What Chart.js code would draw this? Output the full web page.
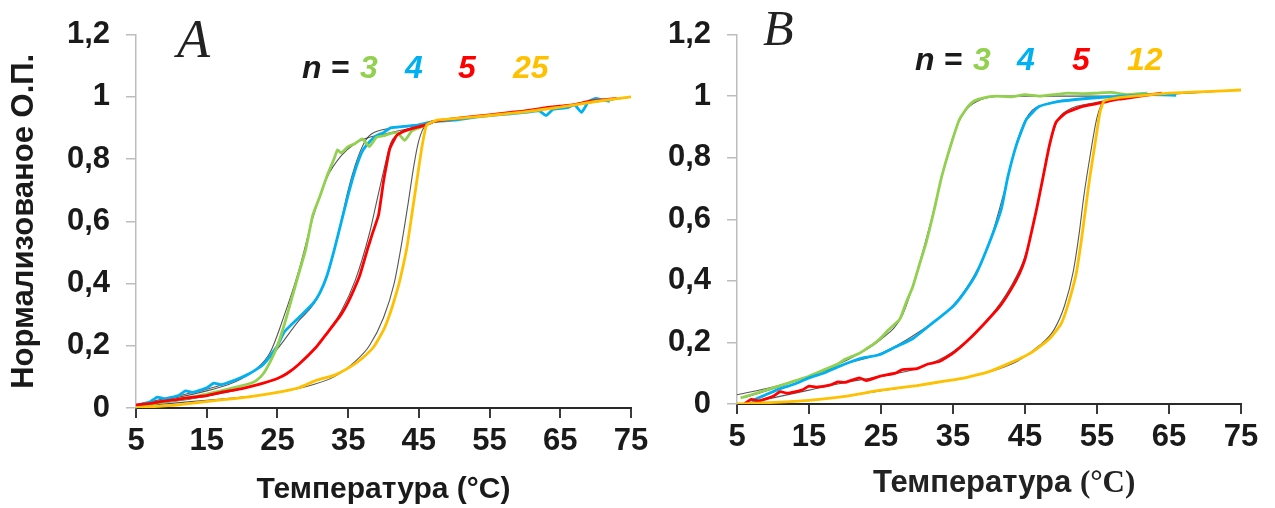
<!DOCTYPE html>
<html>
<head>
<meta charset="utf-8">
<script src="https://cdn.jsdelivr.net/npm/chart.js@4.4.0/dist/chart.umd.min.js"></script>
<style>
  body { margin: 0; background: #fff; width: 1275px; height: 508px; position: relative; overflow: hidden;
         font-family: "Liberation Sans", Arial, sans-serif; }
  canvas { position: absolute; top: 0; }
  #chartA { left: 0; }
  #chartB { left: 660px; }
  .tag { position: absolute; font-family: "Liberation Serif", "Times New Roman", serif; font-style: italic;
         line-height: 1; color: #222; }
  .key { position: absolute; font-weight: bold; font-style: italic; font-size: 32px; line-height: 1; white-space: pre; }
  .xt { position: absolute; left: 873px; top: 466px; font-size: 31px; font-weight: bold; line-height: 1; color: #222; white-space: pre; }
  .xt span { font-family: "Liberation Serif", "Times New Roman", serif; }
</style>
</head>
<body>
<canvas id="chartA" width="660" height="508"></canvas>
<canvas id="chartB" width="615" height="508"></canvas>

<div class="tag" style="left:177px; top:12px; font-size:54px;">A</div>
<div class="tag" style="left:763px; top:3px; font-size:50px;">B</div>

<div class="key" style="left:302px; top:51px; color:#1a1a1a;">n =</div>
<div class="key" style="left:360px; top:51px; color:#92d050;">3</div>
<div class="key" style="left:405px; top:51px; color:#00b0f0;">4</div>
<div class="key" style="left:458px; top:51px; color:#ff0000;">5</div>
<div class="key" style="left:513px; top:51px; color:#ffc000;">25</div>

<div class="key" style="left:915px; top:43px; color:#1a1a1a;">n =</div>
<div class="key" style="left:973px; top:43px; color:#92d050;">3</div>
<div class="key" style="left:1017px; top:43px; color:#00b0f0;">4</div>
<div class="key" style="left:1072px; top:43px; color:#ff0000;">5</div>
<div class="key" style="left:1127px; top:43px; color:#ffc000;">12</div>

<div class="xt">Температура <span>(°C)</span></div>

<script>
// Панель A: n = 3, 4, 5, 25 — температура (°C) и нормализованная О.П.
const a3T = [5, 7, 9, 11, 13, 15, 17, 19, 21, 22, 23, 24, 25, 26, 27, 28, 29, 30, 31, 32, 33, 33.5, 34, 35, 36, 37, 38, 39, 40, 41, 42, 43, 44, 45, 46, 47];
const a3V = [0.005, 0.012, 0.02, 0.028, 0.035, 0.045, 0.055, 0.066, 0.078, 0.088, 0.11, 0.15, 0.2, 0.27, 0.35, 0.43, 0.51, 0.62, 0.68, 0.745, 0.8, 0.83, 0.82, 0.84, 0.85, 0.865, 0.84, 0.87, 0.875, 0.882, 0.885, 0.86, 0.89, 0.9, 0.91, 0.92];

const a4T = [5, 7, 8, 9, 11, 12, 13, 15, 16, 17, 19, 21, 23, 25, 26, 28, 30, 31, 32, 33, 34, 35, 36, 37, 38, 39, 40, 41, 43, 45, 47, 50, 53, 55, 58, 60, 62, 63, 64, 66, 67, 68, 69, 70, 71, 72];
const a4V = [0.008, 0.02, 0.035, 0.03, 0.04, 0.055, 0.05, 0.065, 0.08, 0.075, 0.09, 0.11, 0.14, 0.2, 0.245, 0.29, 0.335, 0.37, 0.425, 0.505, 0.595, 0.685, 0.765, 0.825, 0.855, 0.875, 0.885, 0.9, 0.905, 0.91, 0.92, 0.925, 0.935, 0.94, 0.945, 0.95, 0.955, 0.94, 0.96, 0.965, 0.975, 0.95, 0.985, 0.995, 0.99, 0.985];

const a5T = [5, 7, 9, 11, 13, 15, 17, 19, 21, 23, 25, 26.3, 28, 30.5, 32, 34, 35, 36, 36.7, 37.8, 38.5, 39.3, 40, 40.5, 40.9, 41.9, 43, 44, 46, 47, 50, 55, 58, 60, 63, 65, 67, 69, 71, 73];
const a5V = [0.01, 0.015, 0.022, 0.028, 0.035, 0.04, 0.05, 0.058, 0.068, 0.08, 0.095, 0.11, 0.14, 0.196, 0.24, 0.3, 0.34, 0.39, 0.43, 0.515, 0.565, 0.62, 0.728, 0.79, 0.834, 0.877, 0.89, 0.898, 0.91, 0.92, 0.93, 0.942, 0.95, 0.955, 0.965, 0.97, 0.975, 0.985, 0.99, 0.995];

const a25T = [5, 8, 11, 14, 17, 21, 25, 28, 30.5, 33, 35.3, 37, 38.6, 40, 40.9, 41.7, 42.3, 43.3, 44, 44.7, 45.4, 46.1, 47.6, 50, 55, 60, 65, 70, 75];
const a25V = [0, 0.005, 0.01, 0.018, 0.026, 0.036, 0.05, 0.065, 0.089, 0.105, 0.132, 0.16, 0.196, 0.25, 0.302, 0.36, 0.409, 0.515, 0.62, 0.728, 0.834, 0.909, 0.925, 0.93, 0.94, 0.952, 0.967, 0.985, 1.0];

// аппроксимация (тонкие чёрные линии), панель A
const fa3T = [5, 10, 15, 18, 20, 22, 24, 26, 28, 30, 32, 34, 36, 38, 40, 44, 47];
const fa3V = [0.01, 0.03, 0.055, 0.075, 0.095, 0.125, 0.18, 0.3, 0.44, 0.61, 0.74, 0.81, 0.85, 0.87, 0.88, 0.9, 0.915];
const fa4T = [5, 10, 15, 20, 23, 25, 28, 30, 32, 34, 35, 36, 37, 38, 40, 43, 47];
const fa4V = [0.01, 0.035, 0.06, 0.1, 0.14, 0.19, 0.28, 0.33, 0.42, 0.6, 0.7, 0.78, 0.84, 0.875, 0.895, 0.905, 0.918];
const fa5T = [5, 10, 15, 20, 25, 28, 31, 34, 36, 38, 39, 40, 41, 42, 44, 47];
const fa5V = [0.008, 0.02, 0.038, 0.062, 0.095, 0.14, 0.21, 0.31, 0.41, 0.56, 0.66, 0.76, 0.85, 0.88, 0.9, 0.918];
const fa25T = [5, 10, 15, 20, 25, 30, 33, 36, 38, 40, 41.5, 42.5, 43.5, 44.3, 45, 46, 47.5, 55, 65, 75];
const fa25V = [0.005, 0.015, 0.025, 0.035, 0.05, 0.075, 0.1, 0.15, 0.2, 0.29, 0.4, 0.52, 0.66, 0.78, 0.86, 0.91, 0.92, 0.94, 0.967, 1.0];

// Панель B: n = 3, 4, 5, 12
const b3T = [5.5, 7, 9, 11, 13, 15, 17, 19, 20, 22, 23, 24, 25, 26, 27.6, 28.5, 29.4, 30.3, 31.3, 32.4, 33.4, 34.7, 35.9, 37.1, 38, 39.1, 41, 43, 45, 47, 49, 51, 53, 55, 57, 59, 62];
const b3V = [0.02, 0.03, 0.045, 0.06, 0.075, 0.09, 0.11, 0.13, 0.145, 0.165, 0.18, 0.195, 0.215, 0.24, 0.275, 0.33, 0.38, 0.45, 0.527, 0.632, 0.736, 0.841, 0.925, 0.967, 0.985, 0.994, 1.0, 0.998, 1.005, 1.0, 1.005, 1.01, 1.008, 1.01, 1.012, 1.005, 1.01];

const b4T = [7, 9, 11, 13, 15, 17, 20, 22.5, 24.8, 27, 29.4, 32, 35, 36.5, 38.2, 40.1, 41.7, 42.6, 43.8, 45.2, 47, 49.8, 54.4, 58, 62, 66];
const b4V = [0.01, 0.03, 0.05, 0.065, 0.085, 0.1, 0.13, 0.15, 0.16, 0.185, 0.212, 0.26, 0.317, 0.36, 0.422, 0.527, 0.632, 0.736, 0.841, 0.925, 0.967, 0.983, 0.994, 1.0, 1.005, 1.003];

const b5T = [6, 7, 8, 10, 11, 12, 14, 15, 16, 18, 19, 20, 22, 23, 24.8, 27, 28, 30, 31.5, 33.1, 35, 37.3, 39.5, 41.5, 43, 44.2, 45, 45.6, 46.6, 47.5, 48.4, 49.3, 50.7, 53, 55.3, 58, 61, 64];
const b5V = [0, 0.015, 0.01, 0.025, 0.04, 0.035, 0.045, 0.058, 0.055, 0.062, 0.072, 0.07, 0.085, 0.076, 0.09, 0.1, 0.112, 0.115, 0.13, 0.138, 0.165, 0.212, 0.265, 0.317, 0.37, 0.422, 0.47, 0.527, 0.632, 0.736, 0.841, 0.915, 0.946, 0.967, 0.977, 0.99, 1.0, 1.01];

const b12T = [5, 8, 11, 15, 20, 24.8, 30, 34, 36.8, 40, 42.4, 44.5, 46.1, 48.4, 50, 50.9, 52.1, 52.8, 53.4, 54, 54.7, 55.4, 56, 58, 60, 65, 70, 75];
const b12V = [0, 0.003, 0.006, 0.012, 0.025, 0.044, 0.06, 0.075, 0.086, 0.105, 0.128, 0.15, 0.17, 0.212, 0.26, 0.317, 0.422, 0.527, 0.632, 0.736, 0.841, 0.946, 0.985, 0.995, 1.0, 1.01, 1.015, 1.02];

// аппроксимация, панель B
const fb3T = [5, 10, 15, 20, 25, 28, 30, 32, 34, 35.5, 37, 39, 42, 57];
const fb3V = [0.03, 0.055, 0.09, 0.14, 0.21, 0.29, 0.43, 0.6, 0.79, 0.9, 0.96, 0.99, 1.0, 1.0];
const fb4T = [6, 10, 15, 20, 25, 30, 35, 38, 40, 42, 44, 45.5, 48, 52, 60];
const fb4V = [0.02, 0.05, 0.09, 0.13, 0.165, 0.23, 0.32, 0.42, 0.52, 0.68, 0.86, 0.94, 0.975, 0.99, 1.0];
const fb5T = [6, 10, 15, 20, 25, 30, 35, 40, 43, 45, 46.6, 48, 49.5, 51, 55, 60, 75];
const fb5V = [0, 0.02, 0.045, 0.07, 0.09, 0.115, 0.17, 0.28, 0.38, 0.48, 0.63, 0.8, 0.92, 0.955, 0.98, 1.0, 1.02];
const fb12T = [5, 10, 15, 20, 25, 30, 35, 40, 44, 47, 49, 50.5, 51.7, 52.5, 53.2, 54, 55, 56, 60, 75];
const fb12V = [0, 0.005, 0.012, 0.025, 0.043, 0.06, 0.078, 0.104, 0.14, 0.19, 0.24, 0.32, 0.43, 0.55, 0.68, 0.8, 0.93, 0.985, 1.0, 1.02];

const xTicks = [5, 15, 25, 35, 45, 55, 65, 75];
const yTicks = [0, 0.2, 0.4, 0.6, 0.8, 1, 1.2];

const GREEN = '#92d050', BLUE = '#00b0f0', RED = '#ff0000', GOLD = '#ffc000';
const SANS = '"Liberation Sans", Arial, sans-serif';

function pts(t, v) {
    return t.map((x, i) => ({ x: x, y: v[i] }));
}

function dataLine(t, v, color) {
    return { data: pts(t, v), borderColor: color, borderWidth: 2.8, tension: 0.15, pointRadius: 0 };
}

function fitLine(t, v) {
    return { data: pts(t, v), borderColor: 'rgba(30,30,30,0.75)', borderWidth: 1.1,
             cubicInterpolationMode: 'monotone', pointRadius: 0 };
}

function makePanel(id, datasets, box) {
    const ctx = document.getElementById(id).getContext('2d');
    return new Chart(ctx, {
        type: 'line',
        data: { datasets: datasets },
        options: {
            responsive: false,
            animation: false,
            layout: { padding: { top: box.top, right: box.right, left: 0, bottom: 0 } },
            plugins: { legend: { display: false }, tooltip: { enabled: false } },
            scales: {
                x: {
                    type: 'linear', min: 5, max: 75,
                    afterBuildTicks: s => { s.ticks = xTicks.map(v => ({ value: v })); },
                    ticks: { color: '#1a1a1a', padding: 5, maxRotation: 0,
                             font: { family: SANS, size: 31, weight: 'bold' } },
                    grid: { drawOnChartArea: false, tickLength: 10, color: '#3a3a3a', lineWidth: 2 },
                    border: { color: '#2a2a2a', width: 2 },
                    title: { display: box.xTitle, text: 'Температура (°C)', color: '#1a1a1a',
                             padding: 0, font: { family: SANS, size: 30, weight: 'bold' } },
                    afterFit: s => { s.height = box.xH; }
                },
                y: {
                    min: 0, max: 1.2,
                    afterBuildTicks: s => { s.ticks = yTicks.map(v => ({ value: v })); },
                    ticks: { color: '#1a1a1a', padding: 16,
                             font: { family: SANS, size: 31, weight: 'bold' },
                             callback: v => String(Math.round(v * 10) / 10).replace('.', ',') },
                    grid: { drawOnChartArea: false, tickLength: 10, color: '#bdbdbd', lineWidth: 1.5 },
                    border: { color: '#bdbdbd', width: 1.5 },
                    title: { display: box.yTitle, text: 'Нормализованое О.П.', color: '#1a1a1a',
                             padding: { top: 6, bottom: 0 }, font: { family: SANS, size: 31, weight: 'bold' } },
                    afterFit: s => { s.width = box.yW; }
                }
            }
        }
    });
}

makePanel('chartA', [
    dataLine(a25T, a25V, GOLD),
    dataLine(a5T, a5V, RED),
    dataLine(a3T, a3V, GREEN),
    dataLine(a4T, a4V, BLUE),
    fitLine(fa3T, fa3V),
    fitLine(fa4T, fa4V),
    fitLine(fa5T, fa5V),
    fitLine(fa25T, fa25V)
], { top: 31, right: 29, xH: 100, yW: 136, xTitle: true, yTitle: true });

makePanel('chartB', [
    dataLine(b12T, b12V, GOLD),
    dataLine(b5T, b5V, RED),
    dataLine(b4T, b4V, BLUE),
    dataLine(b3T, b3V, GREEN),
    fitLine(fb3T, fb3V),
    fitLine(fb4T, fb4V),
    fitLine(fb5T, fb5V),
    fitLine(fb12T, fb12V)
], { top: 23, right: 34, xH: 104, yW: 77, xTitle: false, yTitle: false });
</script>
</body>
</html>
